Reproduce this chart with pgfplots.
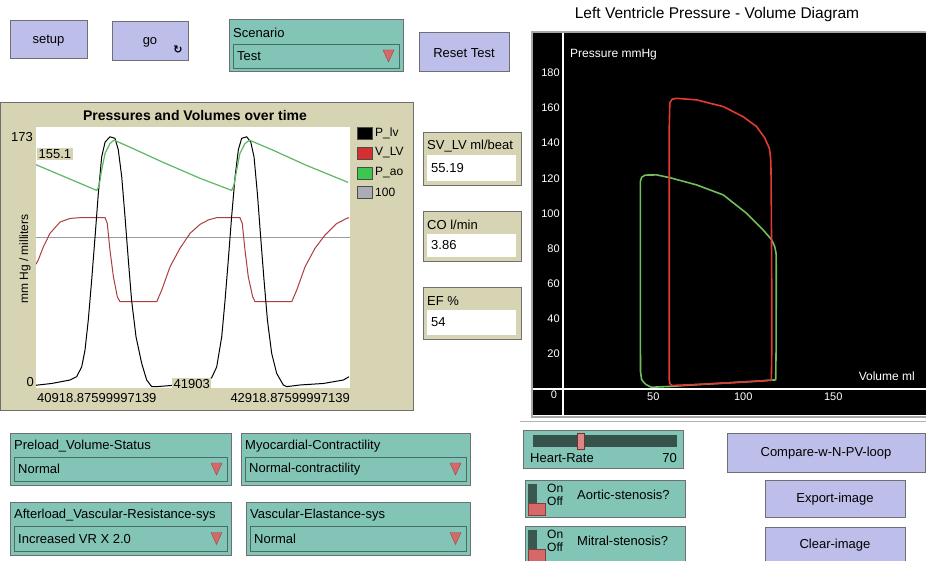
\documentclass[border=0pt]{standalone}
\usepackage{fontspec}
\setmainfont{Liberation Sans}
\newfontfamily\dejavu{DejaVu Sans}
\usepackage{pgfplots}
\pgfplotsset{compat=1.18}

\definecolor{btnfill}{RGB}{190,190,234}
\definecolor{btnedge}{RGB}{110,110,115}
\definecolor{nlteal}{RGB}{130,196,182}
\definecolor{darkteal}{RGB}{70,110,100}
\definecolor{panel}{RGB}{215,212,180}
\definecolor{tri}{RGB}{214,104,104}
\definecolor{lvred}{RGB}{172,62,62}
\definecolor{aogreen}{RGB}{92,184,100}
\definecolor{pvred}{RGB}{226,58,52}
\definecolor{pvgreen}{RGB}{112,190,92}
\definecolor{legred}{RGB}{212,48,48}
\definecolor{leggreen}{RGB}{60,200,80}
\definecolor{leggray}{RGB}{172,172,182}

\newcommand\ui{\fontsize{13}{15}\selectfont}
\newcommand\sm{\fontsize{12}{14}\selectfont}

% x1,y1,x2,y2,text  (pixel coords, y downwards)
\newcommand\nlbutton[5]{%
  \draw[fill=btnfill, draw=btnedge, line width=1pt] (#1,#2) rectangle (#3,#4);
  \node[font=\ui] at ({(#1+#3)/2},{(#2+#4)/2+1}) {#5};}
% x1,y1,x2,y2,label,value
\newcommand\chooser[6]{%
  \draw[fill=nlteal, draw=btnedge, line width=1pt] (#1,#2) rectangle (#3,#4);
  \node[anchor=west, font=\ui, inner sep=0pt] at (#1+4,#2+13) {#5};
  \draw[fill=nlteal, draw=darkteal, line width=0.8pt] (#1+4,#2+24) rectangle (#3-4,#4-4);
  \node[anchor=west, font=\ui, inner sep=0pt] at (#1+8,{(#2+#4+20)/2}) {#6};
  \draw[fill=tri, draw=tri!70!black, line width=0.4pt]
    (#3-20,{(#2+#4+20)/2-6}) -- (#3-9,{(#2+#4+20)/2-6}) -- (#3-14.5,{(#2+#4+20)/2+6}) -- cycle;}
% x1,y1,x2,y2,label,value
\newcommand\monitor[6]{%
  \draw[fill=panel, draw=btnedge, line width=1pt] (#1,#2) rectangle (#3,#4);
  \node[anchor=west, font=\ui, inner sep=0pt] at (#1+4,#2+13) {#5};
  \fill[white] (#1+4,#2+22) rectangle (#3-5,#4-5);
  \node[anchor=west, font=\ui, inner sep=0pt] at (#1+8,{(#2+#4+17)/2}) {#6};}
% x1,y1,x2,y2,label
\newcommand\switch[5]{%
  \draw[fill=nlteal, draw=btnedge, line width=1pt] (#1,#2) rectangle (#3,#4);
  \fill[darkteal!80!black] (#1+3,#2+4) rectangle (#1+12,#2+24);
  \draw[fill=tri, draw=tri!60!black] (#1+3,#2+23) rectangle (#1+20,#2+35);
  \node[anchor=west, font=\sm, inner sep=0pt] at (#1+22,#2+8) {On};
  \node[anchor=west, font=\sm, inner sep=0pt] at (#1+22,#2+21) {Off};
  \node[anchor=west, font=\ui, inner sep=0pt] at (#1+52,#2+15) {#5};}

\begin{document}
\begin{tikzpicture}[x=1pt,y=1pt]
\useasboundingbox (0,0) rectangle (926,560);

% ---- widgets and panels (y measured downwards from the top)
\begin{scope}[shift={(0,560)}, yscale=-1]
  \fill[white] (0,0) rectangle (926,560);
  \nlbutton{10}{21}{87}{59}{setup}
  \nlbutton{112}{22}{188}{61}{go}
  \node[font=\dejavu\bfseries\fontsize{11}{11}\selectfont] at (178,50) {↻};
  \chooser{229}{20}{403}{72}{Scenario}{Test}
  \nlbutton{419}{33}{509}{72}{Reset Test}

  % plot panel
  \draw[fill=panel, draw=btnedge, line width=1pt] (0,103) rectangle (413,410);
  \node[font=\bfseries\fontsize{14}{16}\selectfont] at (195,115) {Pressures and Volumes over time};
  \node[rotate=90, font=\sm] at (25,259) {mm Hg / milliters};
  \node[anchor=east, font=\ui, inner sep=0pt] at (33,137) {173};
  \node[anchor=east, font=\ui, inner sep=0pt] at (34,382) {0};
  \node[anchor=west, font=\ui, inner sep=0pt] at (37,398) {40918.87599997139};
  \node[anchor=east, font=\ui, inner sep=0pt] at (350,398) {42918.87599997139};
  % legend
  \draw[fill=black, draw=black!70] (357,127) rectangle (372,139);
  \draw[fill=legred, draw=black!70] (357,147) rectangle (372,159);
  \draw[fill=leggreen, draw=black!70] (357,167) rectangle (372,179);
  \draw[fill=leggray, draw=black!70] (357,186) rectangle (372,198);
  \node[anchor=west, font=\sm, inner sep=0pt] at (375,133) {P\_lv};
  \node[anchor=west, font=\sm, inner sep=0pt] at (375,153) {V\_LV};
  \node[anchor=west, font=\sm, inner sep=0pt] at (375,173) {P\_ao};
  \node[anchor=west, font=\sm, inner sep=0pt] at (375,192) {100};

  \monitor{423}{133}{521}{186}{SV\_LV ml/beat}{55.19}
  \monitor{423}{212}{521}{262}{CO l/min}{3.86}
  \monitor{423}{288}{521}{340}{EF \%}{54}

  % PV panel frame
  \node[font=\fontsize{15.5}{17}\selectfont] at (717,14) {Left Ventricle Pressure - Volume Diagram};
  \draw[gray!70, line width=2pt] (532,32) rectangle (927,417);
  \draw[gray!60, line width=1pt] (520,421) -- (926,421);

  % bottom widgets
  \chooser{10}{433}{231}{485}{Preload\_Volume-Status}{Normal}
  \chooser{241}{433}{470}{485}{Myocardial-Contractility}{Normal-contractility}
  \chooser{10}{502}{231}{555}{Afterload\_Vascular-Resistance-sys}{Increased VR X 2.0}
  \chooser{246}{502}{470}{555}{Vascular-Elastance-sys}{Normal}

  % slider
  \draw[fill=nlteal, draw=btnedge, line width=1pt] (523,430) rectangle (683,468);
  \fill[darkteal!75!black] (533,435) rectangle (677,447);
  \draw[fill=tri!80!white, draw=tri!50!black] (577,433) rectangle (584,449);
  \node[anchor=west, font=\ui, inner sep=0pt] at (530,458) {Heart-Rate};
  \node[anchor=east, font=\ui, inner sep=0pt] at (677,458) {70};

  \switch{525}{480}{685}{517}{Aortic-stenosis?}
  \switch{525}{526}{685}{562}{Mitral-stenosis?}

  \nlbutton{727}{433}{925}{472}{Compare-w-N-PV-loop}
  \nlbutton{765}{480}{905}{517}{Export-image}
  \nlbutton{765}{527}{905}{562}{Clear-image}
\end{scope}

% ---- Pressures and volumes over time
\begin{axis}[
  at={(36pt,172pt)}, anchor=south west,
  width=314pt, height=261pt, scale only axis,
  xmin=0, xmax=2000, ymin=0, ymax=173,
  axis line style={draw=none}, ticks=none,
  axis background/.style={fill=white}
]
\addplot[leggray!90!black, line width=0.8pt] coordinates {(0,100) (2000,100)};
% V_LV
\addplot[lvred, line width=1pt] coordinates {
 (0,82) (15,85) (47,93.6) (89,102.5) (153,110) (217,112.4) (280,112.9) (440,112.9)
 (454,109) (471,91.5) (493,73.8) (518,60.5) (535,57.2) (769,57.2) (801,65) (854,80.4)
 (917,92.6) (981,102.5) (1045,108.5) (1100,111.5) (1151,112.9) (1299,112.9) (1314,109)
 (1331,91.5) (1352,73.8) (1380,60.5) (1395,57.2) (1629,57.2) (1661,65) (1714,80.4)
 (1777,92.6) (1841,101.4) (1915,109) (1979,112.4) (1994,112.9)};
% P_lv
\addplot[black, line width=1pt] coordinates {
 (0,1.8) (15,2.0) (100,3.0) (217,5.3) (259,7.5) (291,14) (312,25) (333,45) (355,72)
 (376,100) (397,129) (418,153) (440,163) (471,166.5) (503,165.5) (524,158) (546,140)
 (567,113.5) (588,85) (609,58) (637,34) (673,16.4) (705,5.3) (737,0.9) (769,0.9)
 (854,1.6) (950,2.6) (1040,4.2) (1090,5.3) (1119,6.8) (1151,14) (1183,34) (1204,58)
 (1225,85) (1246,113.5) (1268,140) (1289,158) (1310,165.5) (1342,166.5) (1368,163)
 (1389,153) (1410,129) (1431,100) (1452,72) (1474,45) (1501,23) (1533,9.7) (1575,2)
 (1597,0.9) (1682,2) (1830,3) (1958,5.3) (1994,7.5)};
% P_ao
\addplot[aogreen, line width=1.2pt] coordinates {
 (0,148) (386,131) (401,133.4) (418,144.5) (440,155.5) (471,162) (497,164.3)
 (599,159.6) (811,149.5) (1045,139) (1246,131) (1261,134.5) (1278,144.5) (1299,155.5)
 (1331,162) (1359,164.3) (1512,157.5) (1724,147.5) (1988,136.3)};
\end{axis}

% ---- Left ventricle pressure-volume diagram
\begin{axis}[
  at={(533pt,145pt)}, anchor=south west,
  width=393pt, height=382pt, scale only axis,
  xmin=-16.8, xmax=201.5, ymin=-14.8, ymax=202.7,
  axis lines=middle, axis line style={white, line width=1.6pt, -},
  axis background/.style={fill=black},
  xtick={50,100,150}, ytick={20,40,...,180},
  major tick length=0pt,
  tick label style={text=white, font=\fontsize{11}{13}\selectfont},
  /pgf/number format/assume math mode=true
]
\addplot[pvgreen, line width=1.6pt] coordinates {
 (49,1.0) (60,1.5) (70,2.2) (80,2.8) (90,3.4) (100,4.0) (110,4.6) (118,5.2)
 (118.2,20) (118.3,50) (118.3,70) (118.2,77.3) (117.5,81) (115.8,84.9) (111.1,90.5)
 (101.9,100) (88.9,110.5) (74.1,116.2) (59.3,120.3) (51.9,121.9) (45.5,121.8)
 (43.5,120.5) (42.8,118) (42.8,60) (42.9,10) (43.5,5.5) (44.4,4.2) (46,2.5) (49,1.0)};
\addplot[pvred, line width=1.6pt] coordinates {
 (60.2,2.0) (70,2.4) (80,2.9) (90,3.4) (100,4.0) (110,4.6) (115.6,5.1)
 (115.8,20) (115.8,60) (115.6,100) (115.4,125) (115.2,131.4) (114.5,137) (112,142.8)
 (107.4,149.4) (100,155) (88.9,160.8) (74.1,164.6) (63,165.5) (60.5,165) (59.2,163)
 (58.9,150) (58.9,100) (58.9,50) (58.9,5) (59.3,3) (60.2,2.0)};
\end{axis}

% ---- overlays
\begin{scope}[shift={(0,560)}, yscale=-1]
  \node[fill=panel, font=\ui, inner sep=1.5pt, anchor=west] at (37,154) {155.1};
  \node[fill=panel, font=\ui, inner sep=1.5pt, anchor=west] at (172,384) {41903};
  \node[font=\fontsize{11}{13}\selectfont, text=white] at (554,395) {0};
  \node[anchor=west, font=\fontsize{12}{14}\selectfont, text=white, inner sep=0pt] at (570,55) {Pressure mmHg};
  \node[anchor=east, font=\fontsize{12}{14}\selectfont, text=white, inner sep=0pt] at (915,376) {Volume ml};
\end{scope}
\end{tikzpicture}
\end{document}
